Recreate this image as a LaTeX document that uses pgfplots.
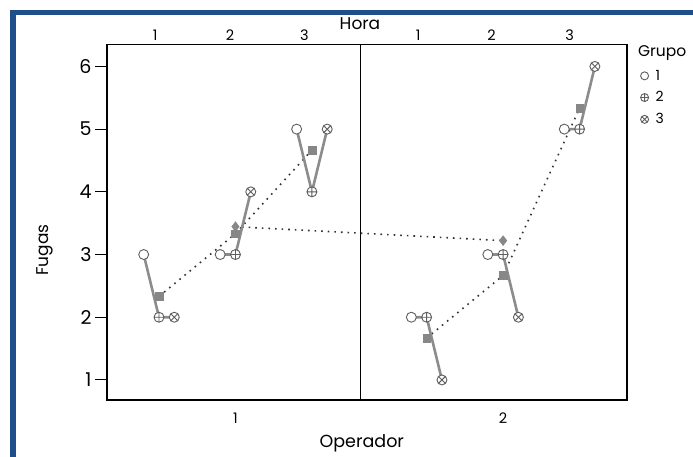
\documentclass[border=0pt]{standalone}
\usepackage{fontspec}
\setmainfont{Poppins}
\usepackage{pgfplots}
\pgfplotsset{compat=1.18}

\definecolor{borderblue}{RGB}{31,78,138}
\definecolor{linegray}{RGB}{140,140,140}
\definecolor{markgray}{RGB}{95,95,95}
\definecolor{meangray}{RGB}{135,135,135}

\begin{document}
\begin{tikzpicture}[x=1pt,y=1pt,
  toplab/.style={anchor=base, yshift=3.5pt, font=\fontsize{14.5}{16}\selectfont}]
\path[use as bounding box] (0,0) rectangle (693,457);
\fill[white] (0,0) rectangle (693,457);
% slide frame
\fill[borderblue] (10,0) rectangle (16,447);
\fill[borderblue] (10,442) rectangle (693,447);

\begin{axis}[
  at={(107pt,57pt)}, anchor=south west,
  scale only axis, width=520pt, height=355.5pt,
  xmin=0.32, xmax=7.12, ymin=0.68, ymax=6.35,
  axis line style={black, line width=1.2pt},
  tick align=outside, major tick length=12pt,
  tick style={black, line width=0.9pt},
  ytick={1,...,6}, ytick pos=left,
  xtick={2,5.5}, xticklabels={1,2}, xtick pos=bottom,
  xtick style={draw=none},
  /pgf/number format/assume math mode=true,
  yticklabel style={font=\fontsize{19}{21}\selectfont},
  xticklabel style={font=\fontsize{14.5}{16}\selectfont, anchor=base, yshift=-12pt},
  xlabel={Operador}, ylabel={Fugas},
  every axis x label/.style={at={(axis description cs:0.49,-0.135)}, anchor=base, font=\fontsize{17.5}{19}\selectfont},
  every axis y label/.style={at={(axis description cs:-0.119,0.422)}, anchor=center, rotate=90, font=\fontsize{17}{19}\selectfont},
  clip=false,
  legend style={at={(rel axis cs:1.02,0.94)}, anchor=north west, draw=none, fill=none,
    font=\fontsize{14}{16}\selectfont, row sep=6pt,
    /tikz/every odd column/.append style={column sep=5pt}},
  legend cell align=left,
  legend image code/.code={\draw[#1, mark size=4pt] plot coordinates {(6pt,0pt)};},
  dotline/.style={black!80, line width=1.6pt, dash pattern=on 1.6pt off 5pt, forget plot},
  profile/.style={linegray, line width=2.6pt, forget plot},
  grp/.style={only marks, mark size=5pt, mark options={fill=white, draw=markgray, line width=0.9pt}},
]

% panel divider between the two operators
\addplot[black, line width=1.2pt, forget plot] coordinates {(3.63,0.68) (3.63,6.35)};

% means of each hour joined within an operator
\addplot[dotline] coordinates {(1,2.333) (2,3.333) (3,4.667)};
\addplot[dotline] coordinates {(4.5,1.667) (5.5,2.667) (6.5,5.333)};
% operator means
\addplot[dotline] coordinates {(2,3.444) (5.5,3.222)};

% group values within each hour
\addplot[profile] coordinates {(0.8,3) (1.0,2) (1.2,2)};
\addplot[profile] coordinates {(1.8,3) (2.0,3) (2.2,4)};
\addplot[profile] coordinates {(2.8,5) (3.0,4) (3.2,5)};
\addplot[profile] coordinates {(4.3,2) (4.5,2) (4.7,1)};
\addplot[profile] coordinates {(5.3,3) (5.5,3) (5.7,2)};
\addplot[profile] coordinates {(6.3,5) (6.5,5) (6.7,6)};

% hour means
\addplot[only marks, mark=square*, mark size=3.8pt, color=meangray, forget plot]
  coordinates {(1,2.333) (2,3.333) (3,4.667) (4.5,1.667) (5.5,2.667) (6.5,5.333)};
% operator means
\addplot[only marks, mark=diamond*, mark size=5pt, color=meangray, forget plot]
  coordinates {(2,3.444) (5.5,3.222)};

% groups
\addplot[grp, mark=*] coordinates {(0.8,3) (1.8,3) (2.8,5) (4.3,2) (5.3,3) (6.3,5)};
\addlegendentry{1}
\addplot[grp, mark=oplus*] coordinates {(1.0,2) (2.0,3) (3.0,4) (4.5,2) (5.5,3) (6.5,5)};
\addlegendentry{2}
\addplot[grp, mark=otimes*] coordinates {(1.2,2) (2.2,4) (3.2,5) (4.7,1) (5.7,2) (6.7,6)};
\addlegendentry{3}

% hour labels along the top
\node[toplab] at (axis cs:0.95,6.35) {1};
\node[toplab] at (axis cs:1.93,6.35) {2};
\node[toplab] at (axis cs:2.90,6.35) {3};
\node[toplab] at (axis cs:4.39,6.35) {1};
\node[toplab] at (axis cs:5.35,6.35) {2};
\node[toplab] at (axis cs:6.37,6.35) {3};
\node[anchor=base, font=\fontsize{17}{19}\selectfont] at (rel axis cs:0.4865,1.041) {Hora};
\node[anchor=base west, inner sep=0pt, font=\fontsize{15.5}{17}\selectfont] at (rel axis cs:1.021,0.965) {Grupo};
\end{axis}
\end{tikzpicture}
\end{document}
